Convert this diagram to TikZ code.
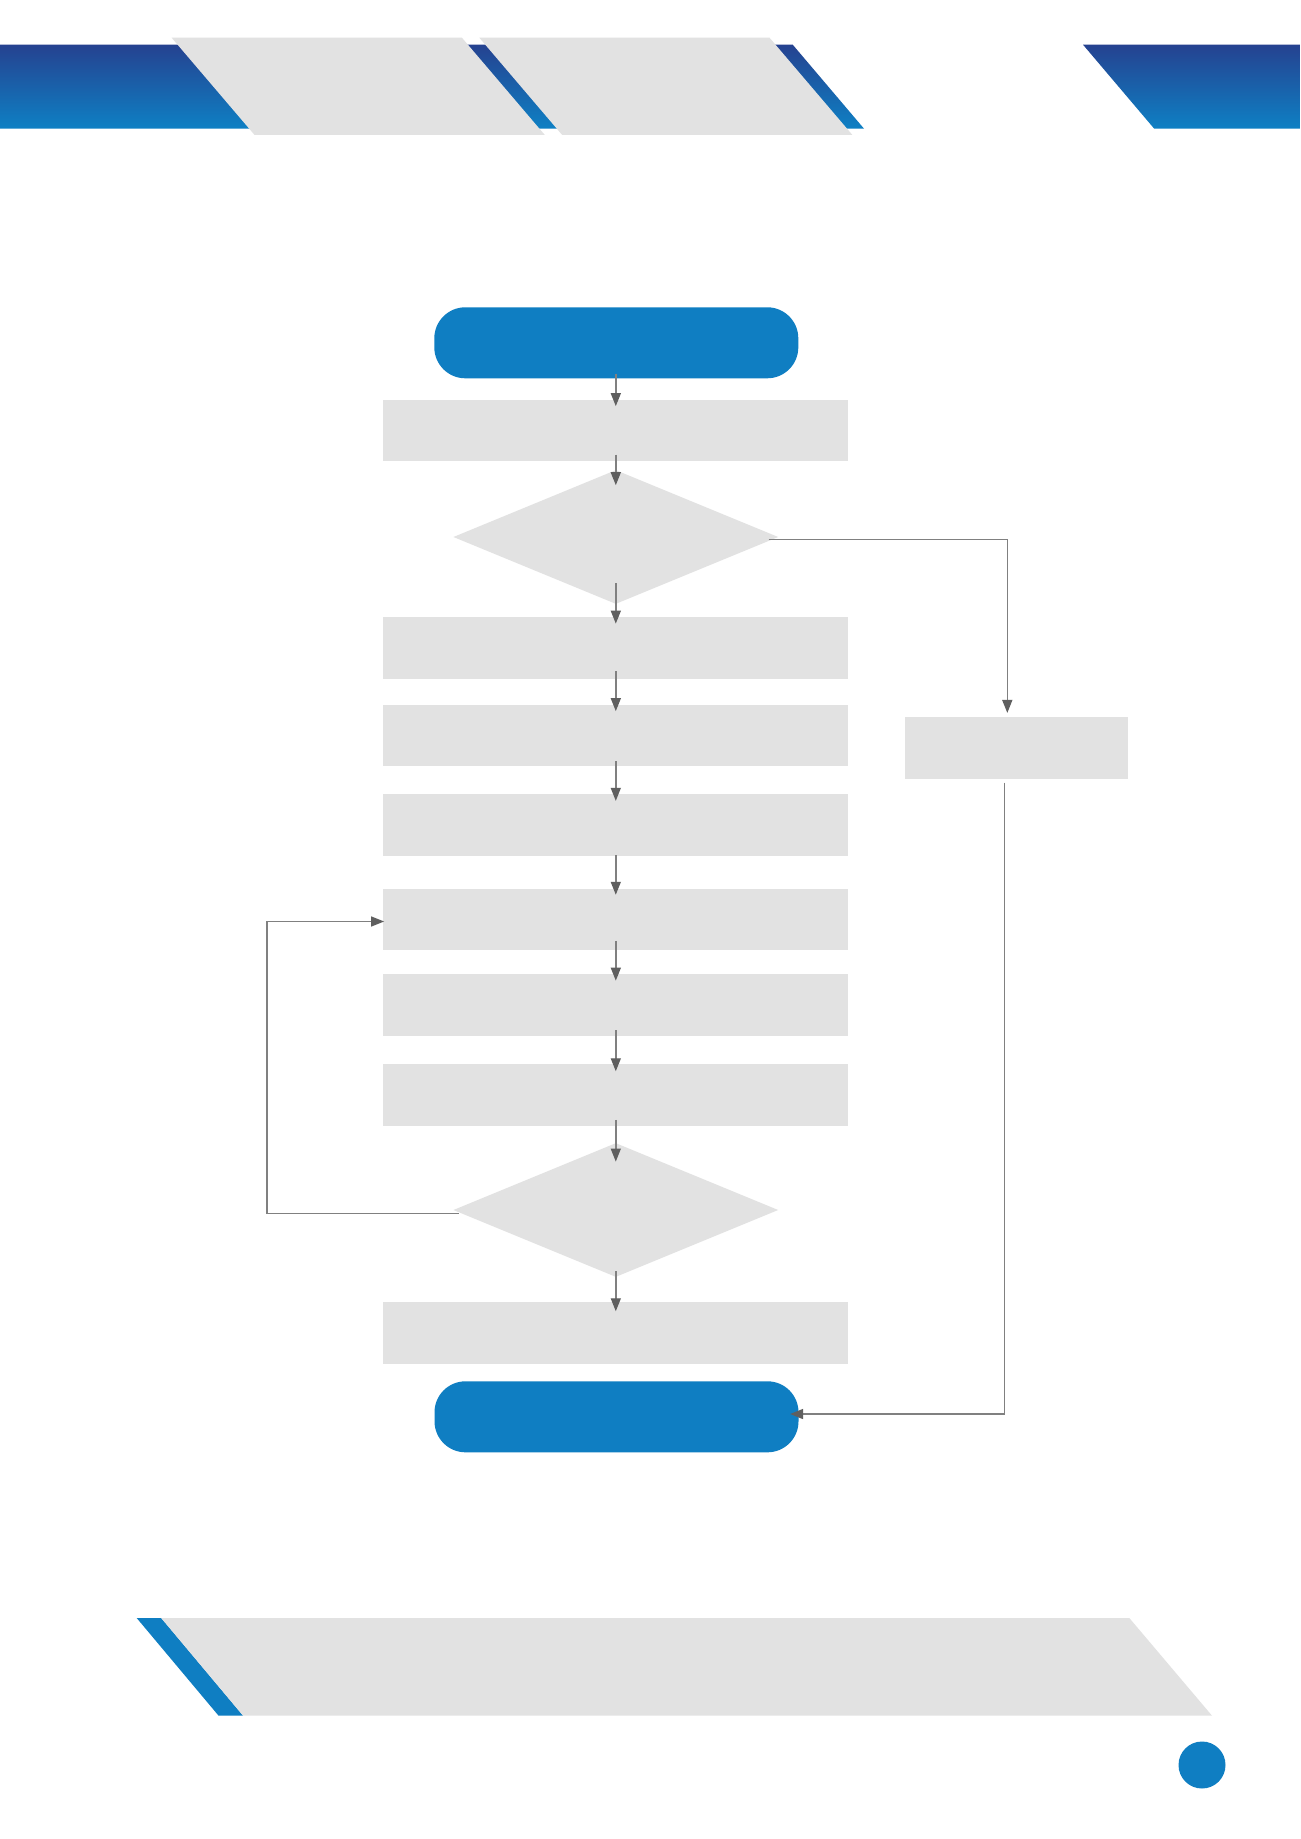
\documentclass[tikz,border=0pt]{standalone}
\usetikzlibrary{shapes.geometric,arrows.meta}
\definecolor{boxgrey}{HTML}{E2E2E2}
\definecolor{termblue}{HTML}{0F7EC2}
\definecolor{bantop}{HTML}{254290}
\definecolor{banbot}{HTML}{0E80C4}
\definecolor{linec}{HTML}{808080}
\definecolor{headc}{HTML}{5F5F5F}
\tikzset{
  procbox/.style={rectangle, fill=boxgrey, draw=none, inner sep=0pt, minimum width=232.5pt, minimum height=30.75pt},
  sidebox/.style={rectangle, fill=boxgrey, draw=none, inner sep=0pt, minimum width=111.5pt, minimum height=30.85pt},
  termbox/.style={rectangle, rounded corners=15.5pt, fill=termblue, draw=none, inner sep=0pt, minimum width=182pt, minimum height=35.5pt},
  decbox/.style={diamond, fill=boxgrey, draw=none, inner sep=0pt, aspect=2.43, minimum width=162.5pt, minimum height=67pt},
  arr/.style={draw=linec, line width=0.7pt, -{Triangle[length=6.5pt,width=5pt,color=headc,fill=headc]}}
}
\begin{document}
\begin{tikzpicture}[x=0.5pt,y=-0.5pt]
\useasboundingbox (0,0) rectangle (1300,1839);
\fill[white] (0,0) rectangle (1300,1839);
% top banner
\shade[top color=bantop, bottom color=banbot] (0,44.7) -- (792.7,44.7) -- (864,128.7) -- (0,128.7) -- cycle;
\shade[top color=bantop, bottom color=banbot] (1083,44.7) -- (1300,44.7) -- (1300,128.7) -- (1154.2,128.7) -- cycle;
\fill[boxgrey] (171.6,37.7) -- (461.9,37.7) -- (544.8,135) -- (254.6,135) -- cycle;
\fill[boxgrey] (479.3,37.7) -- (769.5,37.7) -- (852.4,135) -- (562.2,135) -- cycle;
% bottom banner
\fill[termblue] (136.7,1618) -- (161.2,1618) -- (243.1,1715.7) -- (218.6,1715.7) -- cycle;
\fill[boxgrey] (161.2,1618) -- (1129.3,1618) -- (1212,1715.7) -- (243.1,1715.7) -- cycle;
\fill[termblue] (1202,1765) circle [radius=11.75pt];
% flowchart nodes
\node[termbox] (start) at (616.3,342.8) {};
\node[procbox] (b1) at (615,430.5) {};
\node[decbox] (d1) at (615.8,537) {};
\node[procbox] (b2) at (615,648) {};
\node[procbox] (b3) at (615,735.3) {};
\node[procbox] (b4) at (615,825) {};
\node[procbox] (b5) at (615,919.3) {};
\node[procbox] (b6) at (615,1004.8) {};
\node[procbox] (b7) at (615,1094.8) {};
\node[decbox] (d2) at (615.8,1210) {};
\node[procbox] (b8) at (615,1332.8) {};
\node[termbox] (end) at (616.5,1416.8) {};
\node[sidebox] (rb) at (1016.5,748.2) {};
\coordinate (lc) at (267,1213.3);
\coordinate (ax) at (615.8,0);
% connectors (all on the common axis ax)
\draw[arr] ([yshift=2.5pt]ax |- start.south) -- ([yshift=-3.4pt]ax |- b1.north);
\draw[arr] ([yshift=3.5pt]ax |- b1.south) -- ([yshift=-7.8pt]d1.north);
\draw[arr] ([yshift=10.5pt]d1.south) -- ([yshift=-3.4pt]ax |- b2.north);
\draw[arr] ([yshift=4pt]ax |- b2.south) -- ([yshift=-3.5pt]ax |- b3.north);
\draw[arr] ([yshift=2.7pt]ax |- b3.south) -- ([yshift=-3.5pt]ax |- b4.north);
\draw[arr] ([yshift=0.4pt]ax |- b4.south) -- ([yshift=-3.3pt]ax |- b5.north);
\draw[arr] ([yshift=4.8pt]ax |- b5.south) -- ([yshift=-3.5pt]ax |- b6.north);
\draw[arr] ([yshift=2.9pt]ax |- b6.south) -- ([yshift=-3.8pt]ax |- b7.north);
\draw[arr] ([yshift=3pt]ax |- b7.south) -- ([yshift=-9.5pt]d2.north);
\draw[arr] ([yshift=3pt]d2.south) -- ([yshift=-4.8pt]ax |- b8.north);
\draw[arr] ([xshift=-5pt,yshift=-1.2pt]d1.east) -| ([xshift=-4.6pt,yshift=2pt]rb.north);
\draw[arr] ([xshift=-6.1pt,yshift=-1.6pt]rb.south) |- ([xshift=-4.4pt,yshift=1.4pt]end.east);
\draw[arr] ([xshift=3pt,yshift=-1.65pt]d2.west) -- (lc) |- ([xshift=1pt,yshift=-1.1pt]b5.west);
\end{tikzpicture}
\end{document}
